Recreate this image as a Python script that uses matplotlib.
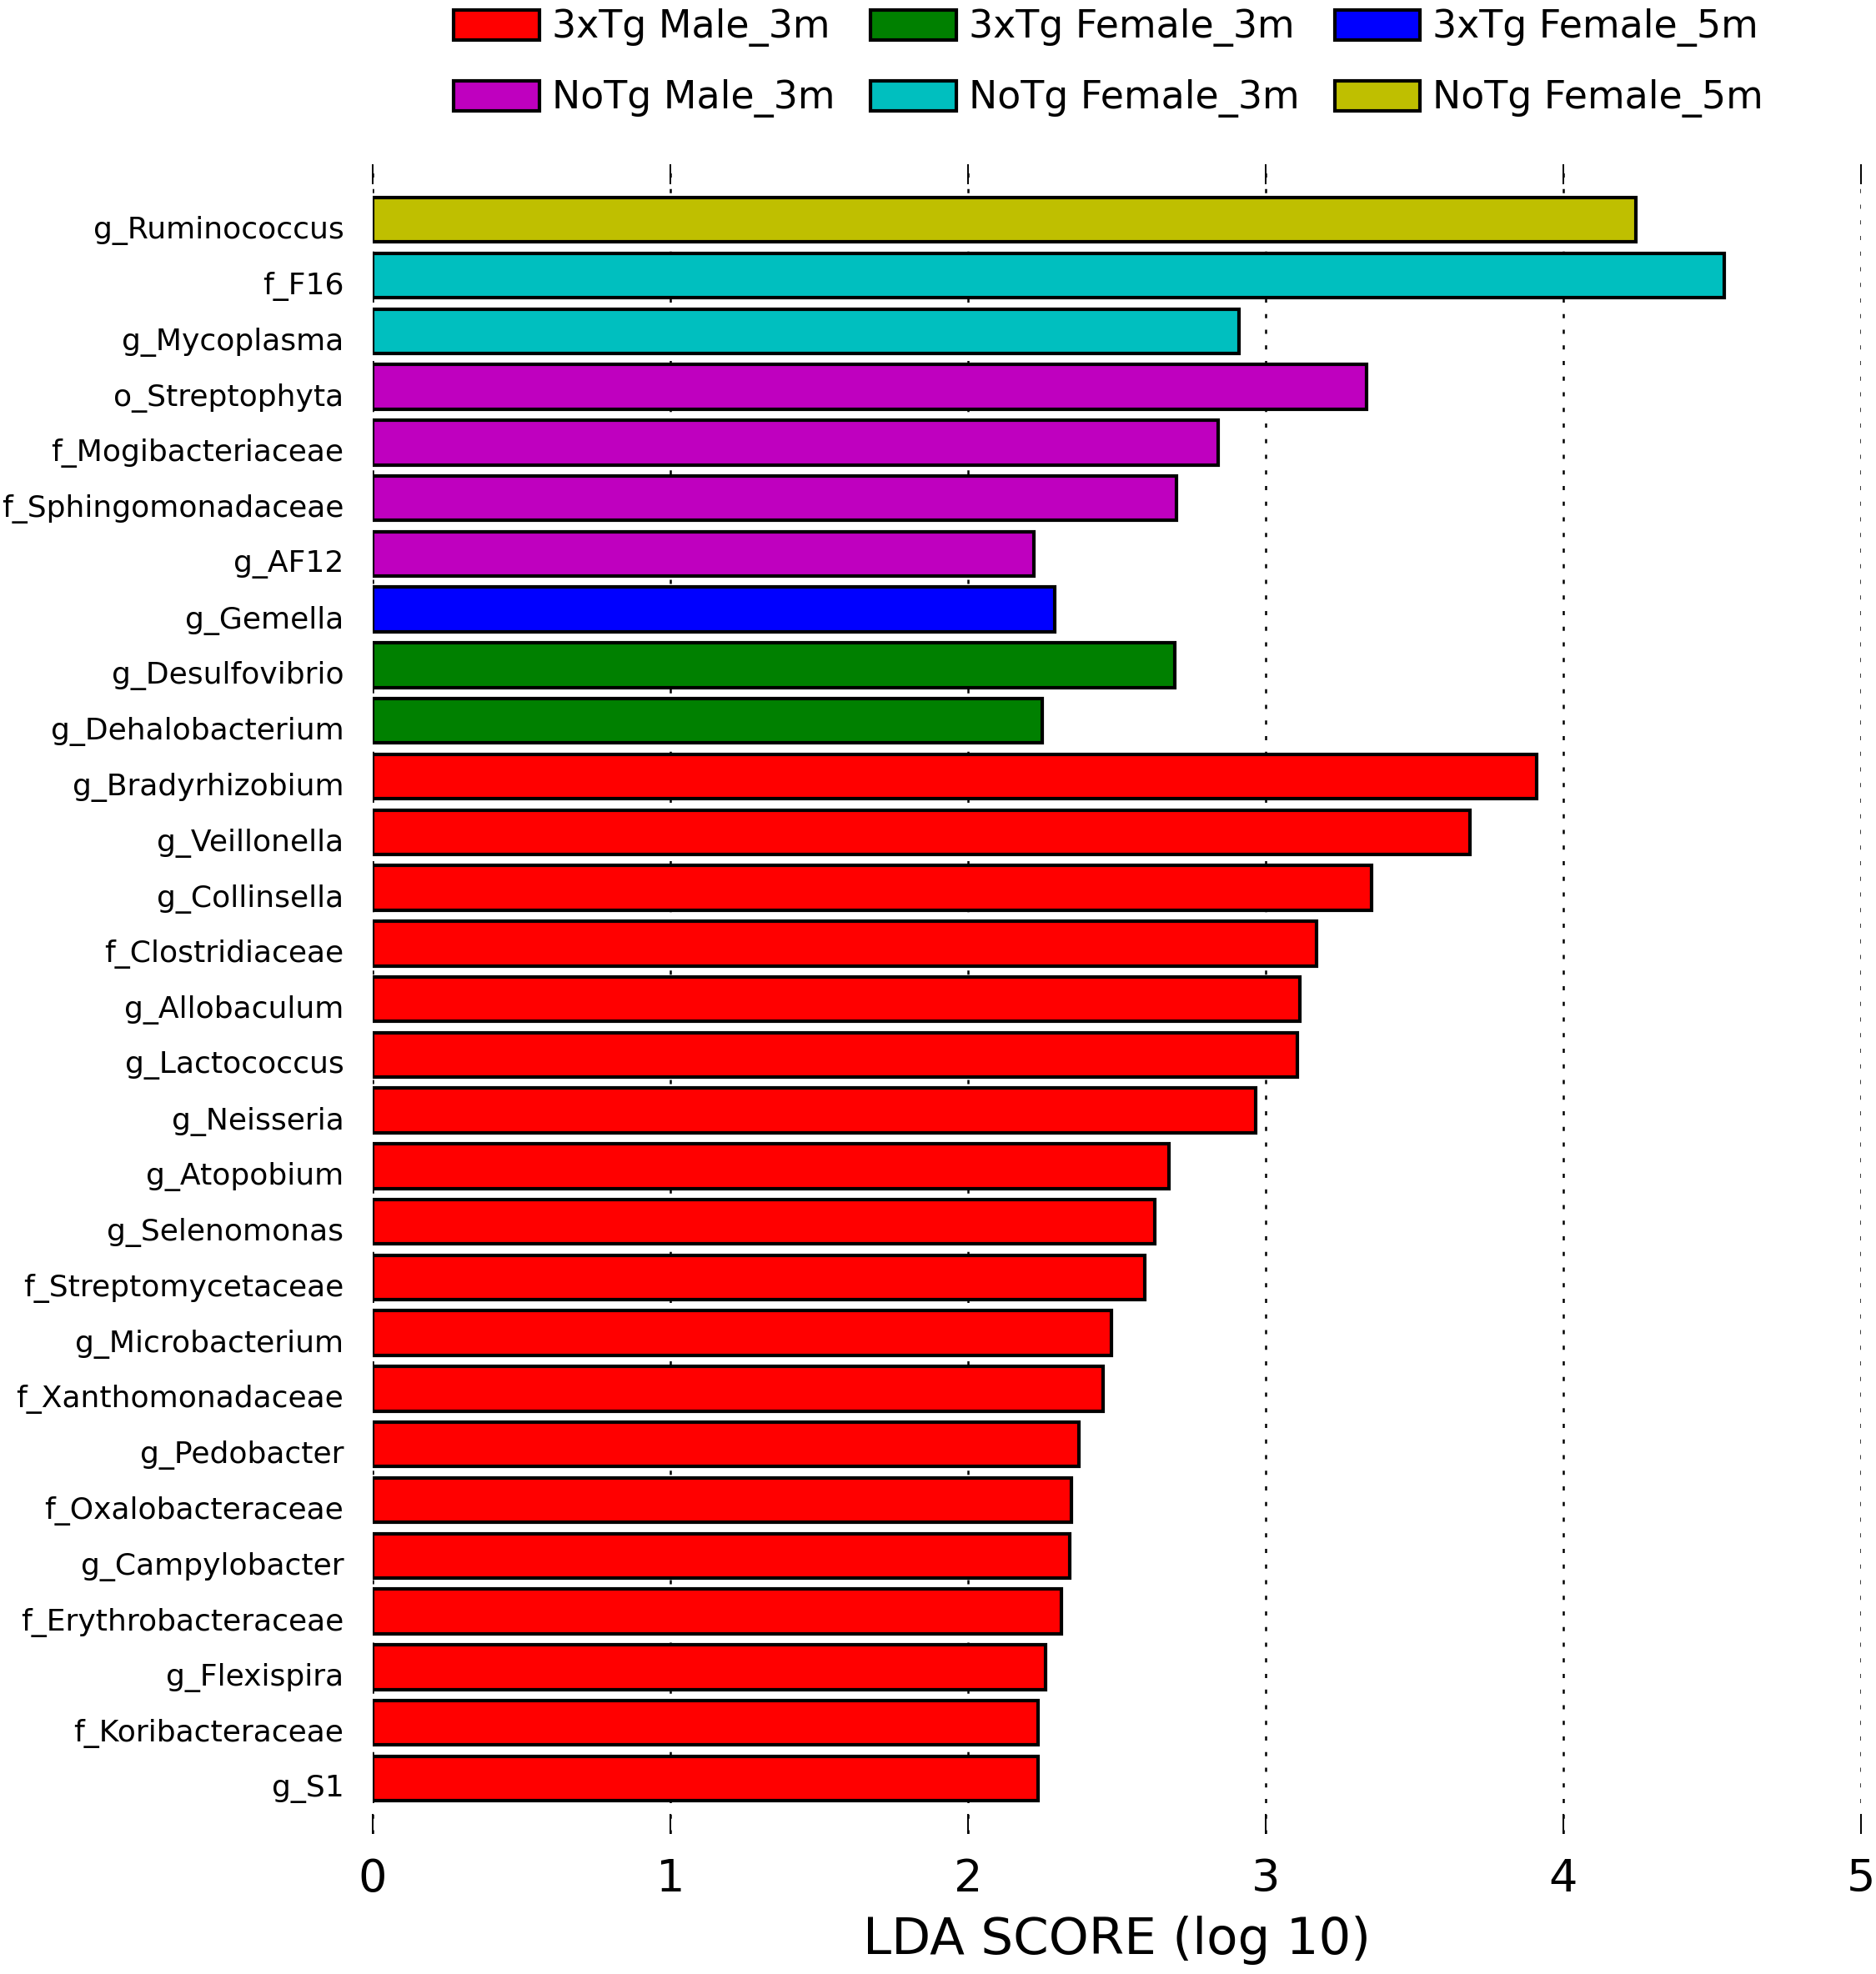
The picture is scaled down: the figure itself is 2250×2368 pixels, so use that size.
"""LEfSe style LDA score bar chart"""

import matplotlib
matplotlib.use('Agg')
import matplotlib.pyplot as plt
import matplotlib.transforms as mtransforms
from matplotlib.patches import Patch

# taxa from top to bottom
taxa = ['g_Ruminococcus', 'f_F16', 'g_Mycoplasma', 'o_Streptophyta',
        'f_Mogibacteriaceae', 'f_Sphingomonadaceae', 'g_AF12', 'g_Gemella',
        'g_Desulfovibrio', 'g_Dehalobacterium', 'g_Bradyrhizobium',
        'g_Veillonella', 'g_Collinsella', 'f_Clostridiaceae', 'g_Allobaculum',
        'g_Lactococcus', 'g_Neisseria', 'g_Atopobium', 'g_Selenomonas',
        'f_Streptomycetaceae', 'g_Microbacterium', 'f_Xanthomonadaceae',
        'g_Pedobacter', 'f_Oxalobacteraceae', 'g_Campylobacter',
        'f_Erythrobacteraceae', 'g_Flexispira', 'f_Koribacteraceae', 'g_S1']

lda = [4.245, 4.54, 2.91, 3.34, 2.84, 2.70, 2.22, 2.29, 2.695, 2.25, 3.91,
       3.687, 3.355, 3.172, 3.115, 3.105, 2.967, 2.674, 2.626, 2.594, 2.481,
       2.453, 2.373, 2.348, 2.343, 2.314, 2.259, 2.234, 2.234]

group = ['NoTg Female_5m', 'NoTg Female_3m', 'NoTg Female_3m',
         'NoTg Male_3m', 'NoTg Male_3m', 'NoTg Male_3m', 'NoTg Male_3m',
         '3xTg Female_5m', '3xTg Female_3m', '3xTg Female_3m'] + ['3xTg Male_3m'] * 19

# legend order (column-wise fill with 3 columns)
classes = ['3xTg Male_3m', 'NoTg Male_3m', '3xTg Female_3m',
           'NoTg Female_3m', '3xTg Female_5m', 'NoTg Female_5m']
class_colors = {'3xTg Male_3m': '#ff0000', 'NoTg Male_3m': '#bf00bf',
                '3xTg Female_3m': '#008000', 'NoTg Female_3m': '#00bfbf',
                '3xTg Female_5m': '#0000ff', 'NoTg Female_5m': '#bfbf00'}

xticks = [0, 1, 2, 3, 4, 5]

fig = plt.figure(figsize=(22.5, 23.68), dpi=100)
ax = fig.add_axes([0.1987, 0.0709, 0.7933, 0.8459])

ypos = list(range(len(taxa)))
colors = [class_colors[g] for g in group]
ax.barh(ypos, lda, height=0.8, color=colors, edgecolor='black',
        linewidth=3, zorder=3)

ax.set_ylim(len(taxa), -1)
ax.set_xlim(0, 5)
ax.set_yticks(ypos)
ax.set_yticklabels(taxa, fontsize=26)
ax.set_xticks(xticks)
ax.set_xticklabels([str(t) for t in xticks], fontsize=39)
ax.tick_params(axis='y', length=0, pad=25)
ax.tick_params(axis='x', direction='in', top=True, bottom=True,
               length=17, width=1.4, pad=20)
ax.xaxis.grid(True, linestyle=(0, (2, 5.5)), color='black', linewidth=1.8,
              zorder=4)
ax.set_axisbelow(False)
for side in ax.spines.values():
    side.set_visible(False)

# taxon names sit slightly below the bar centres in the original
shift = mtransforms.ScaledTranslation(0, -6.5 / 72, fig.dpi_scale_trans)
for lab in ax.get_yticklabels():
    lab.set_transform(lab.get_transform() + shift)

ax.set_xlabel('LDA SCORE (log 10)', fontsize=44, labelpad=13)

handles = [Patch(facecolor=class_colors[c], edgecolor='black', linewidth=3)
           for c in classes]
fig.legend(handles, classes, loc='upper center', bbox_to_anchor=(0.591, 1.013),
           ncol=3, frameon=False, fontsize=33, handlelength=2.24,
           handleheight=0.83, handletextpad=0.33, columnspacing=0.92,
           labelspacing=0.85)

fig.savefig('out.png', dpi=100, facecolor='white')
